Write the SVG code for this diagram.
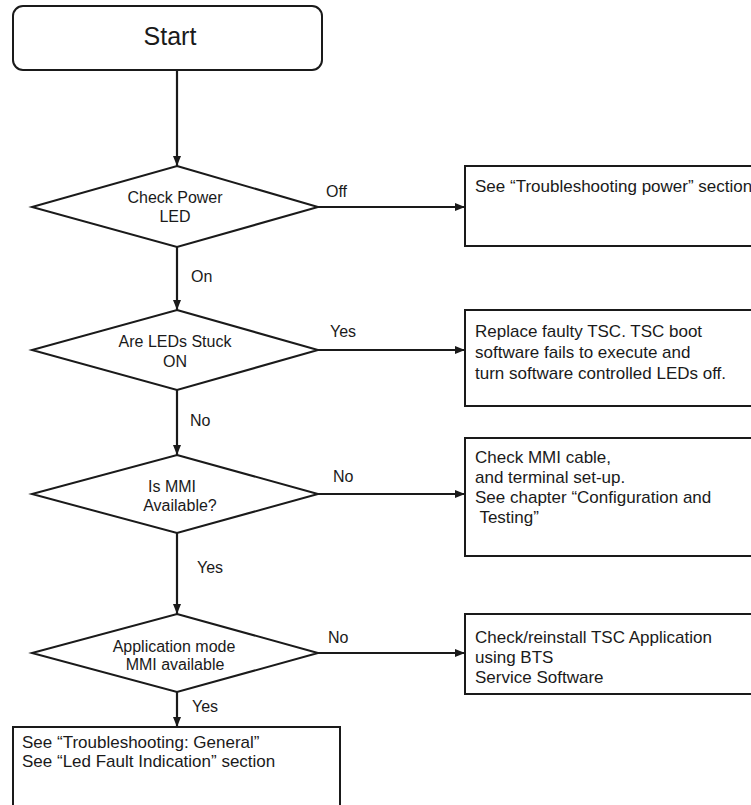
<svg xmlns="http://www.w3.org/2000/svg" width="751" height="805" viewBox="0 0 751 805">
  <style>
    .shape { fill: #ffffff; stroke: #1a1a1a; stroke-width: 2; }
    .edge { fill: none; stroke: #1a1a1a; stroke-width: 2.2; }
    text { font-family: "Liberation Sans", Arial, sans-serif; fill: #1a1a1a; }
    .node { font-size: 16px; text-anchor: middle; }
    .note { font-size: 17px; }
    .lbl { font-size: 16px; }
  </style>
  <defs>
    <marker id="arrow" markerWidth="10" markerHeight="8" refX="10" refY="4" orient="auto" markerUnits="userSpaceOnUse">
      <path d="M0,0 L10,4 L0,8 Z" fill="#1a1a1a"/>
    </marker>
  </defs>

  <rect width="751" height="805" fill="#ffffff"/>

  <!-- connectors -->
  <g id="connectors">
    <line class="edge" x1="177" y1="70" x2="177" y2="166" marker-end="url(#arrow)"/>
    <line class="edge" x1="177" y1="247" x2="177" y2="310" marker-end="url(#arrow)"/>
    <line class="edge" x1="177" y1="390" x2="177" y2="455" marker-end="url(#arrow)"/>
    <line class="edge" x1="177" y1="533" x2="177" y2="614" marker-end="url(#arrow)"/>
    <line class="edge" x1="177" y1="692" x2="177" y2="727" marker-end="url(#arrow)"/>
    <line class="edge" x1="318" y1="207" x2="465" y2="207" marker-end="url(#arrow)"/>
    <line class="edge" x1="318" y1="350" x2="465" y2="350" marker-end="url(#arrow)"/>
    <line class="edge" x1="318" y1="494" x2="465" y2="494" marker-end="url(#arrow)"/>
    <line class="edge" x1="318" y1="653" x2="465" y2="653" marker-end="url(#arrow)"/>
    <text class="lbl" x="326" y="197">Off</text>
    <text class="lbl" x="191" y="282">On</text>
    <text class="lbl" x="330" y="337">Yes</text>
    <text class="lbl" x="190" y="426">No</text>
    <text class="lbl" x="333" y="482">No</text>
    <text class="lbl" x="197" y="573">Yes</text>
    <text class="lbl" x="328" y="643">No</text>
    <text class="lbl" x="192" y="712">Yes</text>
  </g>

  <!-- start terminal -->
  <g id="start">
    <rect class="shape" x="13" y="6" width="309" height="64" rx="10" ry="10"/>
    <text x="170" y="45" font-size="25" text-anchor="middle">Start</text>
  </g>

  <!-- decisions -->
  <g id="check-power">
    <polygon class="shape" points="177,166 318,207 177,247 32,207"/>
    <text class="node" x="175" y="203">Check Power</text>
    <text class="node" x="175" y="222">LED</text>
  </g>
  <g id="leds-stuck">
    <polygon class="shape" points="177,310 318,350 177,390 32,350"/>
    <text class="node" x="175" y="347">Are LEDs Stuck</text>
    <text class="node" x="175" y="367">ON</text>
  </g>
  <g id="mmi-available">
    <polygon class="shape" points="177,455 318,494 177,533 32,494"/>
    <text class="node" x="172" y="492">Is MMI</text>
    <text class="node" x="180" y="511">Available?</text>
  </g>
  <g id="app-mode">
    <polygon class="shape" points="177,614 318,653 177,692 32,653"/>
    <text class="node" x="174" y="652">Application mode</text>
    <text class="node" x="175" y="670">MMI available</text>
  </g>

  <!-- action boxes -->
  <g id="power-section">
    <rect class="shape" x="465" y="166" width="300" height="80"/>
    <text class="note" x="475" y="192">See “Troubleshooting power” section</text>
  </g>
  <g id="replace-tsc">
    <rect class="shape" x="465" y="310" width="300" height="96"/>
    <text class="note" x="475" y="337">Replace faulty TSC. TSC boot</text>
    <text class="note" x="475" y="358">software fails to execute and</text>
    <text class="note" x="475" y="379">turn software controlled LEDs off.</text>
  </g>
  <g id="check-cable">
    <rect class="shape" x="465" y="438" width="300" height="118"/>
    <text class="note" x="475" y="463">Check MMI cable,</text>
    <text class="note" x="475" y="483">and terminal set-up.</text>
    <text class="note" x="475" y="503">See chapter “Configuration and</text>
    <text class="note" x="475" y="523" xml:space="preserve"> Testing”</text>
  </g>
  <g id="reinstall-app">
    <rect class="shape" x="465" y="614" width="300" height="80"/>
    <text class="note" x="475" y="643">Check/reinstall TSC Application</text>
    <text class="note" x="475" y="663">using BTS</text>
    <text class="note" x="475" y="683">Service Software</text>
  </g>
  <g id="general">
    <rect class="shape" x="13" y="727" width="327" height="100"/>
    <text class="note" x="22" y="748">See “Troubleshooting: General”</text>
    <text class="note" x="22" y="767">See “Led Fault Indication” section</text>
  </g>
</svg>
